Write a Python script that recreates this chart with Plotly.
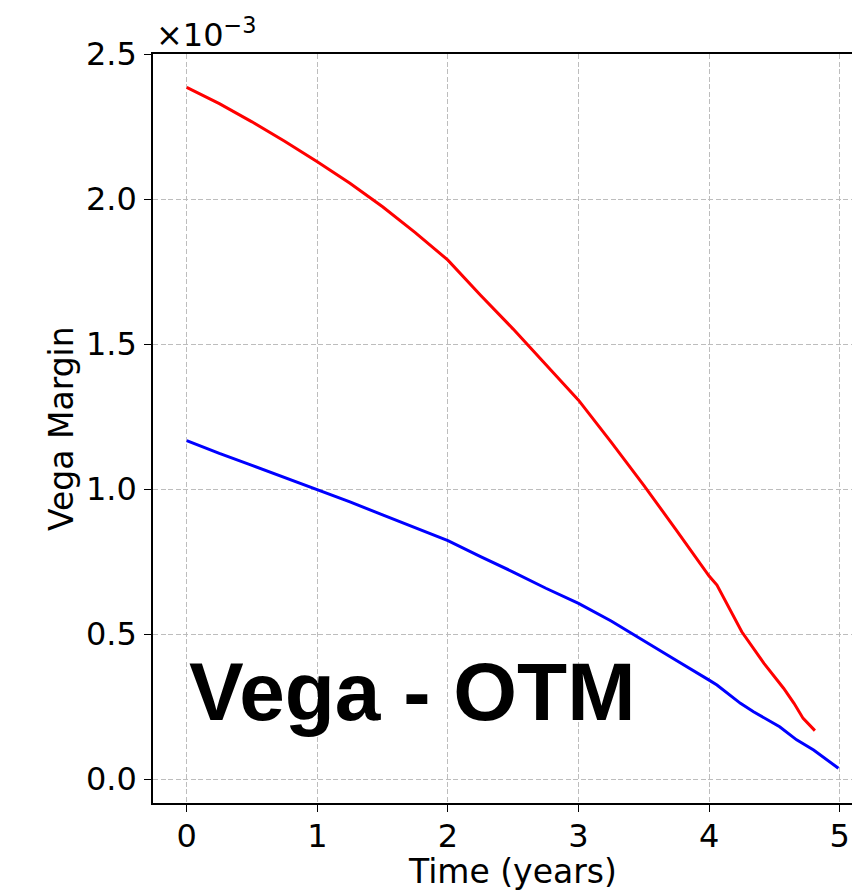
import plotly.graph_objects as go

# Vega margin over time for the OTM option (values in units of 1e-3)
time_upper = [0.0, 0.25, 0.5, 0.75, 1.0, 1.25, 1.5, 1.75, 2.0, 2.25, 2.5, 2.75,
              3.0, 3.25, 3.5, 3.75, 4.0, 4.06, 4.16, 4.25, 4.42, 4.54, 4.57,
              4.65, 4.72, 4.81]
margin_upper = [2.386, 2.330, 2.267, 2.200, 2.129, 2.055, 1.974, 1.885, 1.790,
                1.669, 1.552, 1.430, 1.307, 1.162, 1.013, 0.858, 0.700, 0.669,
                0.583, 0.508, 0.399, 0.330, 0.313, 0.261, 0.209, 0.167]

time_lower = [0.0, 0.25, 0.5, 0.75, 1.0, 1.25, 1.5, 1.75, 2.0, 2.25, 2.5, 2.75,
              3.0, 3.25, 3.5, 3.75, 4.0, 4.06, 4.24, 4.34, 4.54, 4.67, 4.80, 4.99]
margin_lower = [1.167, 1.123, 1.082, 1.040, 1.000, 0.956, 0.911, 0.867, 0.822,
                0.767, 0.714, 0.658, 0.606, 0.545, 0.478, 0.409, 0.341, 0.324,
                0.261, 0.232, 0.180, 0.135, 0.100, 0.037]

y_ticks = [0.0, 0.5, 1.0, 1.5, 2.0, 2.5]
x_ticks = [0, 1, 2, 3, 4, 5]

W, H = 852, 890
L, R, T, B = 153, 0, 54, 87
plot_w = W - L - R
plot_h = H - T - B


def px(xp):
    return (xp - L) / plot_w


def py(yp):
    return (H - B - yp) / plot_h


fig = go.Figure()
fig.add_trace(go.Scatter(x=time_upper, y=margin_upper, mode="lines",
                         line=dict(color="#ff0000", width=3), showlegend=False))
fig.add_trace(go.Scatter(x=time_lower, y=margin_lower, mode="lines",
                         line=dict(color="#0000ff", width=3), showlegend=False))

tick_font = dict(family="DejaVu Sans", size=32, color="black")
grid = dict(showgrid=True, gridcolor="#bdbdbd", gridwidth=1, griddash="5px,2.5px")

fig.update_xaxes(range=[-0.258, 5.094], tickvals=x_ticks,
                 ticktext=[str(v) for v in x_ticks],
                 showline=True, linecolor="black", linewidth=1.6, mirror=True,
                 ticks="outside", ticklen=7, tickwidth=1.3, tickcolor="black",
                 ticklabelstandoff=-3,
                 tickfont=tick_font, zeroline=False, **grid)
fig.update_yaxes(range=[-0.0828, 2.501], tickvals=y_ticks,
                 ticktext=[f"{v:.1f}" for v in y_ticks],
                 showline=True, linecolor="black", linewidth=1.6, mirror=False,
                 ticks="outside", ticklen=7, tickwidth=1.3, tickcolor="black",
                 ticklabelstandoff=1,
                 tickfont=tick_font, zeroline=False, **grid)

annotations = [
    dict(text="Time (years)", x=px(512), y=py(871), xref="paper", yref="paper",
         xanchor="center", yanchor="middle", showarrow=False,
         font=dict(family="DejaVu Sans", size=33, color="black")),
    dict(text="Vega Margin", x=px(61), y=py(428), xref="paper", yref="paper",
         xanchor="center", yanchor="middle", textangle=-90, showarrow=False,
         font=dict(family="DejaVu Sans", size=33, color="black")),
    dict(text="×10<sup>−3</sup>", x=px(154), y=py(33), xref="paper", yref="paper",
         xanchor="left", yanchor="middle", showarrow=False,
         font=dict(family="DejaVu Sans", size=32, color="black")),
    dict(text="<b>Vega - OTM</b>", x=px(187), y=py(691), xref="paper", yref="paper",
         xanchor="left", yanchor="middle", showarrow=False,
         font=dict(family="Liberation Sans", size=82, color="black")),
]

fig.update_layout(width=W, height=H, margin=dict(l=L, r=R, t=T, b=B),
                  plot_bgcolor="white", paper_bgcolor="white",
                  annotations=annotations)

fig.write_html("out.html")
